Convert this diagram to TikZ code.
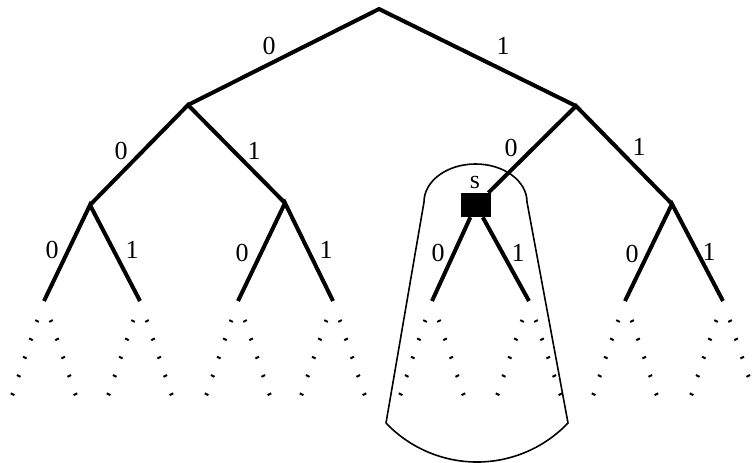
\documentclass[tikz,border=0pt]{standalone}
\usepackage{fontspec}
\setmainfont{Liberation Serif}
\begin{document}
\begin{tikzpicture}[x=0.75pt, y=-0.75pt,
  edge/.style={line width=3pt},
  lbl/.style={font=\fontsize{19.5pt}{22pt}\selectfont, inner sep=0pt},
  speck/.style={line width=1.5pt},
  state/.style={fill=black, minimum width=22.5pt, minimum height=18pt, inner sep=0pt}]
\useasboundingbox (0,0) rectangle (752,463);
% tree vertices
\coordinate (r) at (379,9);
\coordinate (n0) at (188,105);
\coordinate (n1) at (576,106);
\coordinate (n00) at (90,205);
\coordinate (n01) at (285,203);
\node[state] (s) at (476,205) {};
\coordinate (n11) at (672,204);
\coordinate (n000) at (44,301);
\coordinate (n001) at (140,301);
\coordinate (n010) at (238,301);
\coordinate (n011) at (333,301);
\coordinate (n100) at (432,301);
\coordinate (n101) at (529,301);
\coordinate (n110) at (625,301);
\coordinate (n111) at (723,301);
% subtree of s
\draw[line width=1.2pt] (386,423) -- (424,202) arc[start angle=180, end angle=360, x radius=51.5, y radius=38]
  -- (568,423) arc[start angle=43.6, end angle=136.4, radius=125.7];
% edges
\draw[edge] (n0) -- (r) -- (n1);
\draw[edge] (n00) -- (n0) -- (n01);
\draw[edge] (s) -- (n1) -- (n11);
\draw[edge] (n000) -- (n00) -- (n001);
\draw[edge] (n010) -- (n01) -- (n011);
\draw[edge] (n100) -- (s) -- (n101);
\draw[edge] (n110) -- (n11) -- (n111);
\node[state] at (s) {};
% labels
\node[lbl] (a0) at (269,46) {0};
\node[lbl] (a1) at (503,46) {1};
\node[lbl] (b00) at (121,151) {0};
\node[lbl] (b01) at (254,151) {1};
\node[lbl] (b10) at (511,148) {0};
\node[lbl] (b11) at (639,147) {1};
\node[lbl] (c000) at (52,250) {0};
\node[lbl] (c001) at (132,250) {1};
\node[lbl] (c010) at (242,253) {0};
\node[lbl] (c011) at (326,250) {1};
\node[lbl] (c100) at (438,253) {0};
\node[lbl] (c101) at (518,253) {1};
\node[lbl] (c110) at (632,254) {0};
\node[lbl] (c111) at (709,252) {1};
\node[lbl] (slbl) at (475,183) {s};
% dotted continuations
\foreach \lf in {n000,n001,n010,n011,n100,n101,n110,n111}{
  \foreach \k in {0,...,4}{
    \draw[speck] ([shift={({-7-6.1*\k},{20+18.3*\k})}]\lf) +(-1.8,-0.9) -- +(1.8,0.9);
    \draw[speck] ([shift={({7+6.1*\k},{20+18.3*\k})}]\lf) +(-1.8,0.9) -- +(1.8,-0.9);
  }
}
\end{tikzpicture}
\end{document}
